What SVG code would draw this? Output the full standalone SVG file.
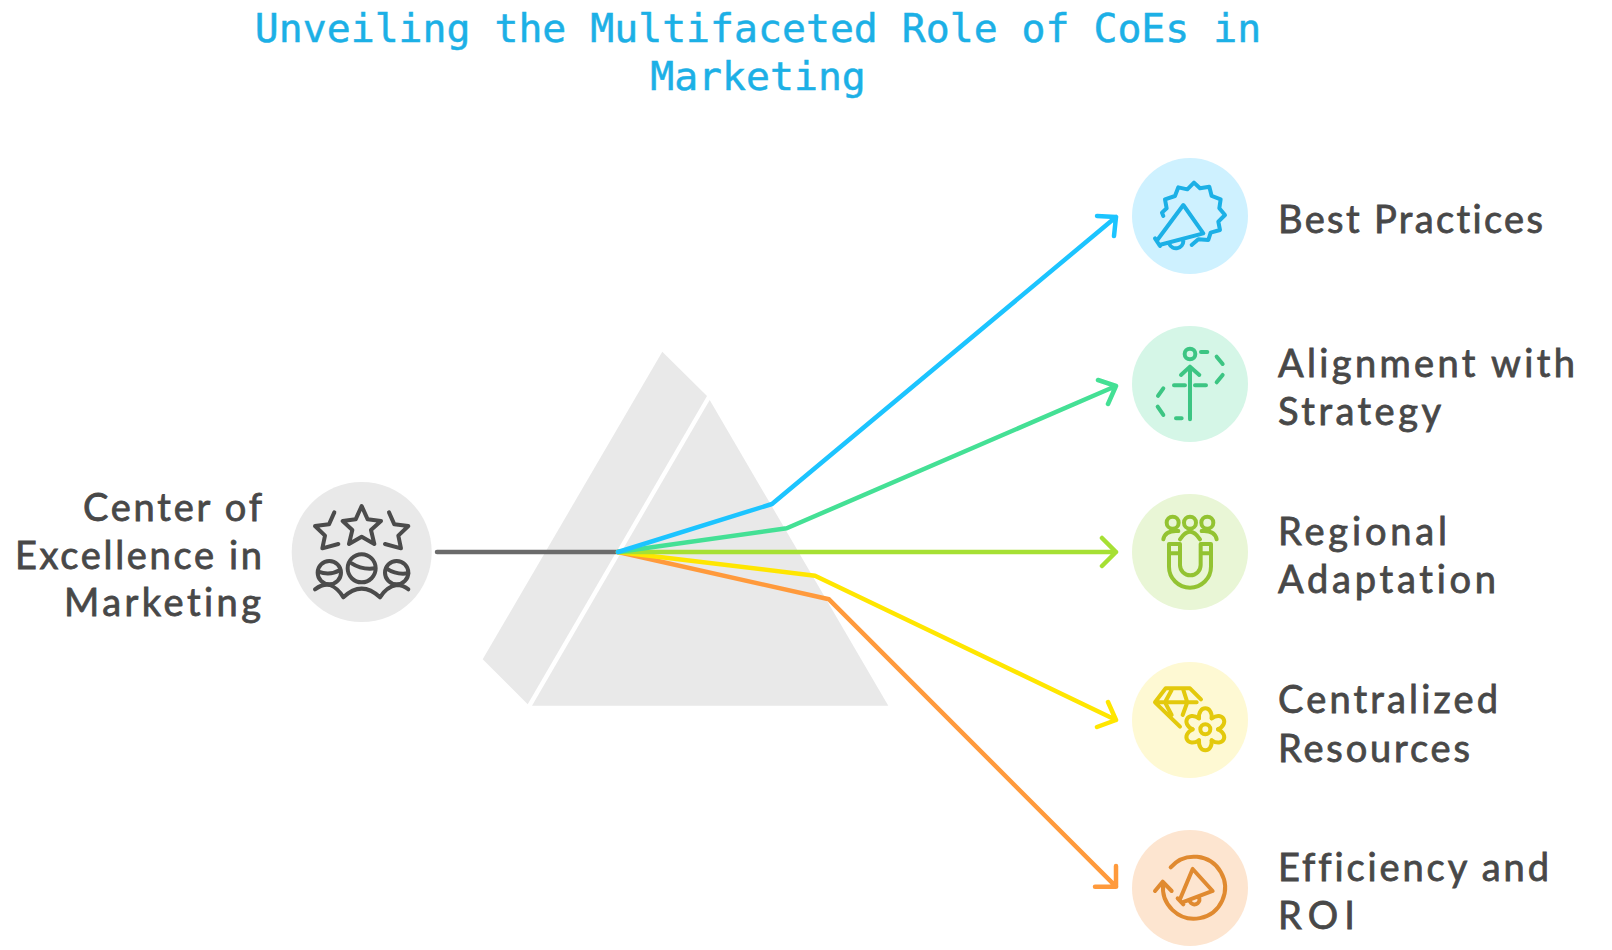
<svg xmlns="http://www.w3.org/2000/svg" width="1612" height="950" viewBox="0 0 1612 950">
<defs>
<style>
.title{font-family:"DejaVu Sans Mono","Liberation Mono",monospace;font-size:39.8px;fill:#1cb0e6;stroke:#1cb0e6;stroke-width:.5;text-anchor:middle}
.lbl{font-family:"Lato","Noto Sans",sans-serif;font-size:38px;fill:#484848;stroke:#484848;stroke-width:.8;font-variant-ligatures:none}
.conn{fill:none;stroke-width:4.5;stroke-linecap:round;stroke-linejoin:round}
.ic{fill:none;stroke-width:12;stroke-linecap:round;stroke-linejoin:round}
</style>
<path id="lobe" d="M335 745C338 705 294 705 297 745"/>
</defs>
<rect width="1612" height="950" fill="#ffffff"/>
<g id="title"><text class="title" x="758" y="42">Unveiling the Multifaceted Role of CoEs in</text><text class="title" x="758" y="90">Marketing</text></g>
<g id="prism"><polygon points="662.3,351.7 707,396 527.7,704.3 482.7,659.3" fill="#e9e9e9"/><polygon points="709.7,400 888.3,705.7 532,705.7" fill="#e9e9e9"/></g>
<g id="connectors">
<path class="conn" stroke="#6b6b6b" d="M437 552H618"/>
<path class="conn" stroke="#ff9a3c" d="M618 552L829 599.3L1116 886.7M1116 866V886.7H1095"/>
<path class="conn" stroke="#ffe600" d="M618 552L815 575.7L1116 720M1108 702L1116 720L1097 727"/>
<path class="conn" stroke="#a6e034" d="M618 552H1116M1102 538L1116 552L1102 566"/>
<path class="conn" stroke="#44e095" d="M618 552L786.7 528.3L1116 386M1098 380L1116 386L1108 404"/>
<path class="conn" stroke="#1cc4ff" d="M618 552L772 504L1116 217M1097 216L1116 217L1114 236"/>
</g>
<g id="node-center">
<circle cx="361.7" cy="552" r="70" fill="#e9e9e9"/>
<g transform="translate(280 470) scale(.3333)" class="ic" stroke="#4b4b4b">
<path d="M245 108L263 148L303 153L273 180L283 222L245 200L207 222L217 180L188 153L227 148Z"/>
<path d="M163 127L147 163L105 168L135 197L127 235L175 222"/>
<path d="M327 127L343 163L385 168L355 197L363 235L315 222"/>
<circle cx="245" cy="295" r="42"/><path d="M215 280Q245 300 285 295"/>
<circle cx="148" cy="308" r="35"/><path d="M115 305Q150 318 180 300"/>
<circle cx="350" cy="308" r="35"/><path d="M320 296Q350 316 385 310"/>
<path d="M105 358Q130 340 150 345Q175 355 190 382Q245 330 300 382Q320 350 350 345Q370 345 385 358"/>
</g>
<text class="lbl" x="83" y="521" textLength="179">Center of</text>
<text class="lbl" x="15" y="569" textLength="247">Excellence in</text>
<text class="lbl" x="64" y="616" textLength="197">Marketing</text>
</g>
<g id="node-best-practices">
<circle cx="1190" cy="216" r="58" fill="#cef1ff"/>
<g transform="translate(1100 140) scale(.3333)" class="ic" stroke="#1cb0e6">
<path d="M190 228L186 218L200 205L195 178L225 168L235 142L262 148L282 128L300 145L328 140L335 168L362 178L358 205L375 225L355 245L360 270L332 278L325 300L295 298L275 315"/>
<path d="M165 295L180 318M172 300L250 195L310 280L178 315M208 312A22 22 0 0 0 250 303"/>
</g>
<text class="lbl" x="1278" y="233" textLength="265">Best Practices</text>
</g>
<g id="node-alignment">
<circle cx="1190" cy="384" r="58" fill="#d5f6e7"/>
<g transform="translate(1100 140) scale(.3333)" class="ic" stroke="#3cc583">
<circle cx="270" cy="642" r="16"/>
<path d="M270 680V838M243 705L270 680L298 705"/>
<path d="M303 636H322M350 650L368 672M368 705L350 727M285 736H318M222 736H255M190 745L174 768M173 800L190 825M228 835H245"/>
</g>
<text class="lbl" x="1278" y="377" textLength="297">Alignment with</text>
<text class="lbl" x="1278" y="425" textLength="163">Strategy</text>
</g>
<g id="node-regional">
<circle cx="1190" cy="552" r="58" fill="#e9f6d6"/>
<g transform="translate(1100 470) scale(.3333)" class="ic" stroke="#93c332">
<circle cx="218" cy="158" r="18"/><circle cx="270" cy="158" r="18"/><circle cx="322" cy="158" r="18"/>
<path d="M190 208Q195 180 235 183M240 208Q270 163 300 208M350 208Q345 180 305 183"/>
<path d="M207 222H240V285A31 31 0 0 0 302 285V222H333V290A63 63 0 0 1 207 290ZM207 250H240M302 250H333"/>
</g>
<text class="lbl" x="1278" y="545" textLength="169">Regional</text>
<text class="lbl" x="1278" y="593" textLength="218">Adaptation</text>
</g>
<g id="node-centralized">
<circle cx="1190" cy="720" r="58" fill="#fef9d3"/>
<g transform="translate(1100 470) scale(.3333)" class="ic" stroke="#e3c90c">
<path d="M303 688L270 655H197L165 697L240 770M165 697H290M215 660L195 697L215 735M250 660L262 697L248 735"/>
<circle cx="316" cy="778" r="15"/>
<use href="#lobe"/><use href="#lobe" transform="rotate(60 316 778)"/><use href="#lobe" transform="rotate(120 316 778)"/><use href="#lobe" transform="rotate(180 316 778)"/><use href="#lobe" transform="rotate(240 316 778)"/><use href="#lobe" transform="rotate(300 316 778)"/>
</g>
<text class="lbl" x="1278" y="713" textLength="220">Centralized</text>
<text class="lbl" x="1278" y="762" textLength="192">Resources</text>
</g>
<g id="node-efficiency">
<circle cx="1190" cy="888" r="58" fill="#fde5d0"/>
<g transform="translate(1100 810) scale(.3333)" class="ic" stroke="#e08a30">
<path d="M212 172A93 93 0 1 1 190 220M165 243L188 215L215 243"/>
<path d="M233 265L250 283M278 177L338 243L245 278M278 177L240 268M270 275A15 15 0 0 0 298 265"/>
</g>
<text class="lbl" x="1278" y="881" textLength="271">Efficiency and</text>
<text class="lbl" x="1278" y="929" textLength="77">ROI</text>
</g>
</svg>
